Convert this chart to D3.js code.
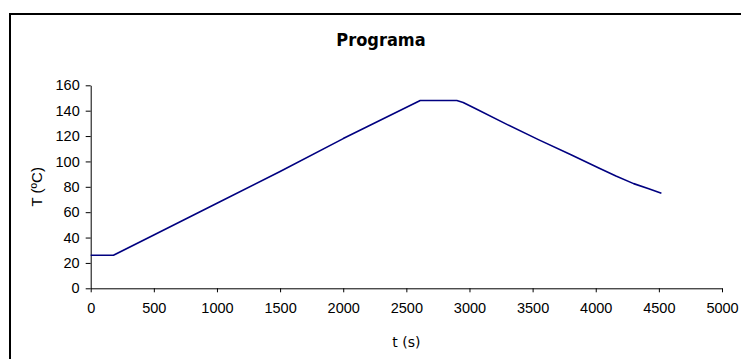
<!DOCTYPE html>
<html>
<head>
<meta charset="utf-8">
<script src="https://cdn.jsdelivr.net/npm/d3@7"></script>
<style>
  body { margin: 0; background: #fff; }
  svg { display: block; }
  .tick text { font-family: "Liberation Sans", Arial, sans-serif; font-size: 14.5px; fill: #000; }
</style>
</head>
<body>
<svg id="chart" width="741" height="359"></svg>
<script>
// programa de temperatura (t en s, T en ºC)
const times = [0, 180, 500, 1000, 1500, 2000, 2610, 2900, 2950, 3050, 3300, 3550, 3800, 4020, 4160, 4300, 4420, 4520];
const temps = [26, 26, 42, 67, 92, 118, 148, 148, 146.5, 141.5, 129, 117, 105.5, 95, 88.5, 82.5, 78.5, 75];
const xTicks = [0, 500, 1000, 1500, 2000, 2500, 3000, 3500, 4000, 4500, 5000];
const yTicks = [0, 20, 40, 60, 80, 100, 120, 140, 160];

const svg = d3.select("#chart");

// outer frame (cut off at right and bottom like the original)
svg.append("rect")
  .attr("x", 10).attr("y", 14)
  .attr("width", 760).attr("height", 380)
  .attr("fill", "none")
  .attr("stroke", "#000")
  .attr("stroke-width", 2);

const margin = { top: 85.3, left: 90.7, right: 741 - 722, bottom: 359 - 288.3 };
const width = 741 - margin.left - margin.right;
const height = 359 - margin.top - margin.bottom;

const g = svg.append("g").attr("transform", `translate(${margin.left},${margin.top})`);

const x = d3.scaleLinear().domain([0, 5000]).range([0, width]);
const y = d3.scaleLinear().domain([0, 160]).range([height, 0]);

const xAxis = d3.axisBottom(x).tickValues(xTicks).tickFormat(d3.format("d"))
  .tickSize(4).tickSizeOuter(0).tickPadding(10);
const yAxis = d3.axisLeft(y).tickValues(yTicks).tickFormat(d3.format("d"))
  .tickSize(5).tickSizeOuter(0).tickPadding(6);

g.append("g").attr("transform", `translate(0,${height})`).call(xAxis)
  .call((s) => s.selectAll("path,line").attr("stroke", "#000"));
g.append("g").call(yAxis)
  .call((s) => s.selectAll("path,line").attr("stroke", "#000"));

const line = d3.line()
  .x((d, i) => x(times[i]))
  .y((d) => y(d));

g.append("path")
  .datum(temps)
  .attr("fill", "none")
  .attr("stroke", "#000080")
  .attr("stroke-width", 1.6)
  .attr("stroke-linejoin", "round")
  .attr("d", line);

// title
svg.append("text")
  .attr("x", 381).attr("y", 46)
  .attr("text-anchor", "middle")
  .attr("font-family", "DejaVu Sans Condensed, DejaVu Sans, sans-serif")
  .attr("font-weight", "bold")
  .attr("font-size", 18)
  .text("Programa");

// axis titles
svg.append("text")
  .attr("x", margin.left + width / 2).attr("y", 347)
  .attr("text-anchor", "middle")
  .attr("font-family", "DejaVu Sans, sans-serif")
  .attr("font-size", 14)
  .text("t (s)");

svg.append("text")
  .attr("transform", `translate(42,${margin.top + height / 2}) rotate(-90)`)
  .attr("text-anchor", "middle")
  .attr("font-family", "Liberation Sans, Arial, sans-serif")
  .attr("font-size", 15)
  .text("T (ºC)");
</script>
</body>
</html>
